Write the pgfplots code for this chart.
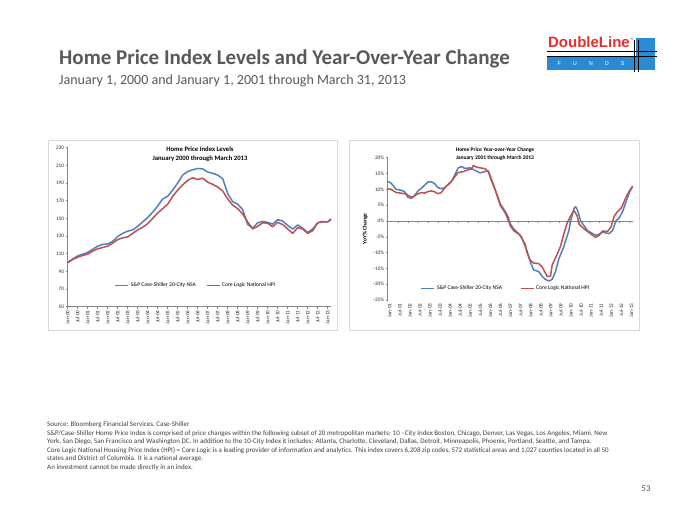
\documentclass[border=0pt]{standalone}
\usepackage{fontspec}
\setmainfont{Carlito}
\newfontfamily\arialfont{Liberation Sans}
\usepackage{pgfplots}
\usepackage{pgfplotstable}
\pgfplotsset{compat=1.18}
\definecolor{csblue}{HTML}{4F81BD}
\definecolor{clred}{HTML}{C0504D}
\definecolor{titlegray}{HTML}{595959}
\definecolor{notegray}{HTML}{404040}
\definecolor{axgray}{HTML}{868686}
\definecolor{boxgray}{HTML}{D9D9D9}
\definecolor{dlred}{HTML}{E4312F}
\definecolor{dlblue}{HTML}{2A8AD4}

\pgfplotstableread{
m v
0 100
3 104
6 107.5
9 109.5
12 111.5
15 115
18 118.5
21 120.5
24 121
27 124
30 129.5
33 133
36 135.5
39 137
42 141
45 146
48 151
51 157
54 164
57 172
60 175
63 182
66 190
69 199
72 203
75 205
78 206.5
81 206
84 202.5
87 201
90 199
93 195
96 178
99 169
102 166
105 160
108 143
111 139
114 145
117 146.5
120 145.5
123 143.5
126 148.5
129 147
132 142
135 138
138 142.5
141 139
144 134
147 138
150 145
153 146.5
156 146
158 149
}\lvlcs

\pgfplotstableread{
m v
0 100
3 103.5
6 106
9 108
12 109.5
15 113
18 115.5
21 117
24 118.5
27 122
30 126
33 128
36 129
39 133
42 137
45 140
48 144
51 150
54 156
57 161
60 166
63 175
66 182
69 188
72 193
75 196
78 194
81 195.5
84 191
87 188.5
90 185.5
93 181
96 172
99 165
102 161
105 155
108 146
111 138
114 141
117 145
120 144.5
123 140.5
126 145.5
129 143
132 138
135 133
138 139.5
141 138
144 133
147 136
150 145
153 146
156 146
158 149
}\lvlcl

\pgfplotstableread{
m v
0 12.5
2 12.0
5 10.0
8 9.7
10 9.3
12 7.5
14 7.1
16 8.0
18 9.5
20 10.3
22 11.3
24 12.3
26 12.4
28 11.8
30 10.5
32 10.2
34 10.5
36 11.5
38 12.5
40 14.5
42 16.8
44 17.2
46 16.6
49 16.8
52 16.0
55 15.2
58 15.6
60 15.8
62 13.0
64 10.0
67 5.0
70 2.5
72 0.0
75 -2.5
78 -4.0
80 -5.5
83 -9.5
85 -13.0
87 -15.5
90 -16.0
92 -17.5
94 -18.5
96 -19.0
98 -18.5
100 -16.0
102 -12.0
105 -8.0
108 -3.0
109 0.0
111 4.0
112 4.5
113 3.5
115 0.0
117 -1.5
119 -3.0
121 -3.7
124 -4.5
126 -4.2
128 -3.5
130 -3.8
132 -4.0
134 -3.0
136 0.0
138 1.0
140 3.0
142 6.0
144 9.0
146 11.0
}\yoycs

\pgfplotstableread{
m v
0 10.2
2 10.0
5 9.0
9 8.7
11 8.5
13 7.8
15 7.5
17 8.3
20 9.0
22 8.8
24 9.3
26 9.5
28 9.2
30 8.6
32 9.0
34 10.5
36 11.5
38 12.5
40 14.0
42 15.3
45 15.6
48 16.2
50 16.5
51 17.5
53 17.0
56 16.7
58 16.5
60 15.5
62 12.5
65 8.5
67 5.5
70 3.0
72 1.0
73 -1.5
75 -3.0
77 -3.8
79 -4.5
82 -7.5
83 -10.0
85 -12.5
87 -13.3
90 -13.5
92 -14.5
95 -17.5
97 -17.5
98 -14.0
101 -10.5
103 -8.0
105 -4.0
107 -0.5
110 2.5
111 3.3
113 1.5
114 -1.0
117 -2.5
119 -3.3
122 -4.5
124 -5.2
126 -4.5
128 -3.2
131 -3.3
133 -2.0
135 1.5
137 3.0
139 4.0
140 5.0
142 7.5
144 9.5
146 11.0
}\yoycl

\pgfplotsset{
  excel/.style={
    scale only axis,
    axis x line*=bottom,
    axis y line*=left,
    axis line style={axgray, line width=0.6pt},
    tick style={axgray, line width=0.5pt},
    tick align=outside,
    major tick length=2pt,
    tick label style={font=\fontsize{5.2}{6}\selectfont, text=black!85},
    xticklabel style={rotate=90, anchor=east, inner sep=1.5pt},
    yticklabel style={inner sep=1.5pt},
    /pgf/number format/assume math mode=true,
    legend image code/.code={\draw[##1, line width=1.2pt] (0pt,0pt) -- (13pt,0pt);},
    legend cell align=left,
    clip=false,
  }
}

\begin{document}
\begin{tikzpicture}[x=1pt,y=1pt]
\fill[white] (0,0) rectangle (700,525);
\useasboundingbox (0,0) rectangle (700,525);

% titles
\node[anchor=base west, inner sep=0, text=titlegray, font=\fontsize{21}{23}\selectfont\bfseries] at (59,460) {Home Price Index Levels and Year-Over-Year Change};
\node[anchor=base west, inner sep=0, text=titlegray, font=\fontsize{14}{16}\selectfont] at (59,440) {January 1, 2000 and January 1, 2001 through March 31, 2013};

% logo
\fill[dlblue] (547,455) rectangle (637,468);
\fill[dlblue] (636,455) rectangle (655,487);
\draw[black, line width=0.9pt] (547,473.3) -- (657,473.3);
\draw[black, line width=0.9pt] (547,468.3) -- (657,468.3);
\draw[black, line width=0.9pt] (634.3,452.7) -- (634.3,485);
\draw[black, line width=0.9pt] (638.3,452.7) -- (638.3,485);
\node[anchor=base east, inner sep=0, text=dlred, font=\arialfont\fontsize{15}{16}\selectfont\bfseries] at (630,477.3) {DoubleLine};
\node[anchor=base west, inner sep=0, text=dlred, font=\arialfont\fontsize{4}{4}\selectfont] at (630.5,484.5) {\textregistered};
\node[anchor=center, inner sep=0, text=white, font=\arialfont\fontsize{5.5}{6}\selectfont] at (591,461.3) {F\hspace{12pt}U\hspace{12pt}N\hspace{12pt}D\hspace{12pt}S};

% chart boxes
\draw[boxgray, line width=0.8pt] (48,195) rectangle (337,385);
\draw[boxgray, line width=0.8pt] (349,195) rectangle (639,385);

% left chart
\begin{axis}[excel,
  at={(67.7pt,218.3pt)}, anchor=south west,
  width=263.3pt, height=159pt,
  xmin=0, xmax=158, ymin=50, ymax=230,
  ytick={50,70,...,230},
  xtick={0,6,...,156},
  xticklabels={Jan-00,Jul-00,Jan-01,Jul-01,Jan-02,Jul-02,Jan-03,Jul-03,Jan-04,Jul-04,Jan-05,Jul-05,Jan-06,Jul-06,Jan-07,Jul-07,Jan-08,Jul-08,Jan-09,Jul-09,Jan-10,Jul-10,Jan-11,Jul-11,Jan-12,Jul-12,Jan-13},
  legend style={draw=none, fill=none, font=\fontsize{5.6}{6}\selectfont, legend columns=2,
    /tikz/every even column/.append style={column sep=8pt},
    at={(0.487,0.132)}, anchor=center},
]
\addplot[csblue, line width=1.5pt, line join=round] table[x=m,y=v] {\lvlcs};
\addlegendentry{S\&P Case-Shiller 20-City NSA}
\addplot[clred, line width=1.5pt, line join=round] table[x=m,y=v] {\lvlcl};
\addlegendentry{Core Logic National HPI}
\end{axis}
\node[align=center, font=\fontsize{6.7}{9}\selectfont\bfseries] at (200,370.5) {Home Price Index Levels\\January 2000 through March 2013};

% right chart
\begin{axis}[excel,
  at={(387.7pt,225pt)}, anchor=south west,
  width=245pt, height=142.3pt,
  xmin=0, xmax=146, ymin=-25, ymax=20,
  x axis line style={draw=none},
  xtick style={draw=none},
  ytick={-25,-20,...,20},
  yticklabels={-25\%,-20\%,-15\%,-10\%,-5\%,0\%,5\%,10\%,15\%,20\%},
  xtick={0,6,...,144},
  xticklabels={Jan-01,Jul-01,Jan-02,Jul-02,Jan-03,Jul-03,Jan-04,Jul-04,Jan-05,Jul-05,Jan-06,Jul-06,Jan-07,Jul-07,Jan-08,Jul-08,Jan-09,Jul-09,Jan-10,Jul-10,Jan-11,Jul-11,Jan-12,Jul-12,Jan-13},
  xticklabel style={yshift=-2pt},
  ylabel={YoY\% Change},
  ylabel style={font=\fontsize{5.6}{6}\selectfont\bfseries, at={(axis description cs:-0.092,0.5)}, anchor=center},
  legend style={draw=none, fill=none, font=\fontsize{5.6}{6}\selectfont, legend columns=2,
    /tikz/every even column/.append style={column sep=16pt},
    at={(0.483,0.082)}, anchor=center},
]
\draw[axgray, line width=0.6pt] (axis cs:0,0) -- (axis cs:146,0);
\pgfplotsinvokeforeach{0,6,...,144}{\draw[axgray, line width=0.5pt] (axis cs:#1,0) -- ++(0pt,-2pt);}
\addplot[csblue, line width=1.5pt, line join=round] table[x=m,y=v] {\yoycs};
\addlegendentry{S\&P Case-Shiller 20-City NSA}
\addplot[clred, line width=1.5pt, line join=round] table[x=m,y=v] {\yoycl};
\addlegendentry{Core Logic National HPI}
\end{axis}
\node[align=center, font=\fontsize{5.5}{8}\selectfont\bfseries] at (495,371) {Home Price Year-over-Year Change\\January 2001 through March 2013};

% footnote
\begin{scope}[every node/.style={anchor=base west, inner sep=0, text=notegray, font=\fontsize{7}{8}\selectfont}]
\node at (47,98.5) {Source: Bloomberg Financial Services, Case-Shiller};
\node at (47,90) {S\&P/Case-Shiller Home Price Index is comprised of price changes within the following subset of 20 metropolitan markets: 10 –City Index Boston, Chicago, Denver, Las Vegas, Los Angeles, Miami, New};
\node at (47,81.5) {York, San Diego, San Francisco and Washington DC. In addition to the 10-City Index it includes: Atlanta, Charlotte, Cleveland, Dallas, Detroit, Minneapolis, Phoenix, Portland, Seattle, and Tampa.};
\node at (47,73) {Core Logic National Housing Price Index (HPI) = Core Logic is a leading provider of information and analytics. This index covers 6,208 zip codes, 572 statistical areas and 1,027 counties located in all 50};
\node at (47,64.5) {states and District of Columbia. It is a national average.};
\node at (47,56) {An investment cannot be made directly in an index.};
\end{scope}
\node[anchor=base, inner sep=0, text=titlegray, font=\fontsize{9}{10}\selectfont] at (646,34) {53};
\end{tikzpicture}
\end{document}
